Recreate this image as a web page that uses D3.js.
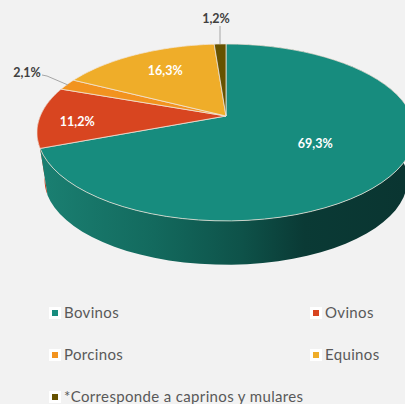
<!DOCTYPE html>
<html><head><meta charset="utf-8">
<script src="https://cdn.jsdelivr.net/npm/d3@7"></script>
<style>html,body{margin:0;padding:0;background:#f2f2f2;overflow:hidden}svg{display:block}text{font-family:Lato,sans-serif}</style>
</head><body><svg id="c" width="405" height="404"></svg>
<script>
const categories = ["Bovinos","Ovinos","Porcinos","Equinos","*Corresponde a caprinos y mulares"];
const values = [69.3,11.2,2.1,16.3,1.2];
const labels = ["69,3%","11,2%","2,1%","16,3%","1,2%"];
const colors = ["#178c7e","#d84520","#f2931f","#efad29","#665200"];
const svg = d3.select("#c");
const cx=226, apexY=116, A=185.7, R=85.4, k=0.186;
const depthScale=0.96, bottomY=164;
const slices = d3.pie().sort(null).value(d=>d)(values);
// perspective projection of a point on the pie disc (angle clockwise from top)
function proj(a,r=1,s=1,y0=apexY){
  const u=r*Math.sin(a), v=-r*Math.cos(a), d=1-k*v;
  return [cx+s*A*u/d, y0+s*R*v/d];
}
const samples=(d)=>d3.range(0,61).map(i=>d.startAngle+(d.endAngle-d.startAngle)*i/60);
const line=d3.line();
const defs=svg.append("defs");
const wall=defs.append("linearGradient").attr("id","wall").attr("gradientUnits","userSpaceOnUse")
  .attr("x1",44).attr("x2",405).attr("y1",0).attr("y2",0);
[[0,"#1a7f71"],[0.3,"#136a5e"],[0.55,"#0e5249"],[0.72,"#0a3a35"],[1,"#0a3531"]].forEach(s=>wall.append("stop").attr("offset",s[0]).attr("stop-color",s[1]));

// side walls
svg.append("g").selectAll("path").data(slices.slice(0,2).reverse()).join("path")
  .attr("d",d=>{const t=samples(d);return line([...t.map(a=>proj(a)),...t.slice().reverse().map(a=>proj(a,1,depthScale,bottomY))])+"Z";})
  .attr("fill",d=>d.index===0?"url(#wall)":"#c83f1d");

// top faces
svg.append("g").selectAll("path").data(slices).join("path")
  .attr("d",d=>line([[cx,apexY],...samples(d).map(a=>proj(a))])+"Z")
  .attr("fill",(d,i)=>colors[i]).attr("stroke","#f0e6dc").attr("stroke-opacity",.85).attr("stroke-width",.9).attr("stroke-linejoin","round");

// inside labels
const labelRadius={0:.55,1:.8,3:.65};
const labelShift={0:4,1:9,3:1};
svg.append("g").selectAll("text").data(slices.filter(d=>d.index in labelRadius)).join("text")
  .each(function(d){const p=proj((d.startAngle+d.endAngle)/2,labelRadius[d.index]);
    d3.select(this).attr("x",p[0]).attr("y",p[1]+labelShift[d.index]);})
  .attr("text-anchor","middle").attr("fill","#fff").attr("font-weight",700).attr("font-size",12.5)
  .text(d=>labels[d.index]);

// outside labels + leaders
const outside=[{i:2,x:27,y:77,pts:[[42,75],[47,76],[68,85]]},{i:4,x:216,y:23,pts:[[220,26],[220,44]]}];
outside.forEach(o=>{
  svg.append("path").attr("d",line(o.pts)).attr("fill","none").attr("stroke","#a6a6a6").attr("stroke-width",1);
  svg.append("text").attr("x",o.x).attr("y",o.y).attr("text-anchor","middle").attr("fill","#404040").attr("font-weight",700).attr("font-size",12.5).text(labels[o.i]);
});

// legend
const colX=d3.scalePoint().domain([0,1]).range([49,310]);
const rowY=d3.scalePoint().domain([0,1,2]).range([313,397]);
const lg=svg.append("g").selectAll("g").data(categories).join("g")
  .attr("transform",(d,i)=>`translate(${colX(i%2)},${rowY(Math.floor(i/2))})`);
lg.append("rect").attr("x",0).attr("y",-6).attr("width",12).attr("height",12).attr("fill","#fff");
lg.append("rect").attr("x",3).attr("y",-3).attr("width",6).attr("height",6).attr("fill",(d,i)=>colors[i]);
lg.append("text").attr("x",15).attr("y",5).attr("fill","#595959").attr("font-size",15).attr("letter-spacing",.35).text(d=>d);
</script></body></html>
